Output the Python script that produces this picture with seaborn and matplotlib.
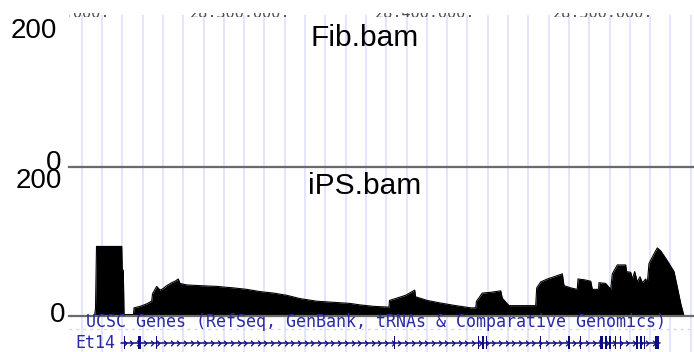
import numpy as np
import matplotlib
matplotlib.use("Agg")
import matplotlib.pyplot as plt
from matplotlib.ticker import MultipleLocator
from matplotlib.path import Path
import seaborn as sns

# ---------------- data ----------------
track_names = ["Fib.bam", "iPS.bam"]
track_max_label = "200"
track_min_label = "0"
track_ymax = 200

ruler_labels = ["28,200,000,", "28,300,000,", "28,400,000,", "28,500,000,"]
ruler_label_pos = [110, 290, 475, 653]

fib_pos = [69, 694]
fib_cov = [0, 0]

ips_pos = [69, 94.5, 95.5, 96.5, 121.7, 122.2, 123.3, 124, 133.5, 134, 140, 146,
           151.7, 152.5, 156.7, 160, 163, 166.7, 171.7, 175, 178.3, 180, 186.7,
           200, 216.7, 233.3, 246.7, 260, 273.3, 286.7, 300, 316.7, 333.3, 350,
           360, 374, 389, 389.5, 405.7, 414.7, 415.5, 427.3, 440.7, 454, 470.7,
           475.7, 476.5, 482.3, 490.7, 500.7, 502.3, 509, 535.7, 536.7, 540.7,
           547.3, 554, 562.3, 564, 570.7, 577.3, 578, 584, 590.7, 592.3, 598.5,
           599, 605.7, 610.7, 612.3, 617.3, 625.7, 626.5, 630.7, 632.3, 634.7,
           637.3, 640, 642.3, 645.7, 647.3, 649, 654, 657.3, 660.7, 665.7, 669,
           674, 677.3, 680.7, 684, 694]
ips_cov = [0, 0, 10, 94, 94, 62, 62, 2, 2, 11, 13, 16,
           20, 30, 40, 35, 37, 41, 45, 47, 50, 44, 42,
           41, 40, 38, 36, 33, 31, 28, 23.5, 20, 18.5, 17,
           15, 13, 12, 21, 28, 35, 26, 21, 17.5, 14.4, 11,
           11, 20, 31, 32, 34, 24, 14, 14, 38, 46,
           50, 53, 57, 41, 38, 36, 50, 49, 47, 36, 36,
           45, 44, 36, 57, 69, 69, 60, 59, 50, 60,
           46, 53, 45, 50, 44, 71, 84, 92, 88, 78, 71,
           60, 39, 17, 0, 0]

gene_track_label = "UCSC Genes (RefSeq, GenBank, tRNAs & Comparative Genomics)"
gene_name = "Et14"
gene_start = 120.7
gene_end = 660
exon_pos = [125, 139, 156.7, 394.5, 478.5, 483, 486.5, 540.5, 569, 580.5,
            601.5, 605.5, 609.5, 615.5, 620.5, 636.8, 641, 644.3, 656.5]
exon_len = [1.0, 3.0, 1.5, 1.5, 1.5, 1.5, 1.5, 1.5, 1.5, 1.5,
            2.5, 2.0, 2.0, 1.5, 1.5, 2.5, 1.5, 1.5, 4.0]

# ---------------- layout helpers ----------------
W, H = 694, 352
sns.set_style("white")
fig = plt.figure(figsize=(W / 100, H / 100), dpi=100)
fig.patch.set_facecolor("white")

def px_axes(x0, y0, x1, y1, z=1):
    ax = fig.add_axes([x0 / W, 1 - y1 / H, (x1 - x0) / W, (y1 - y0) / H], zorder=z)
    ax.patch.set_visible(False)
    for s in ax.spines.values():
        s.set_visible(False)
    ax.tick_params(left=False, bottom=False, labelleft=False, labelbottom=False)
    ax.set_xlim(69, 694)
    return ax

def ftext(x, y, s, **kw):
    fig.text(x / W, 1 - y / H, s, color="black", **kw)

XL = (69, 694)
grid_color = "#dcdcfc"
label_font = ["Liberation Sans", "DejaVu Sans"]
mono_font = ["DejaVu Sans Mono"]
blue_txt = "#2a2aa2"
gene_blue = "#0c0c80"

# background grid (light blue vertical lines)
ax_bg = px_axes(69, 15, 694, 352, z=0)
ax_bg.set_ylim(0, 1)
ax_bg.xaxis.set_major_locator(MultipleLocator(20.3, offset=0.5))
ax_bg.grid(axis="x", color=grid_color, lw=1.1)
ax_bg.grid(axis="y", visible=False)

# ruler labels (only their bottoms are visible)
ax_r = px_axes(69, 13, 694, 17, z=1)
ax_r.set_ylim(0, 1)
for lab, xp in zip(ruler_labels, ruler_label_pos):
    ax_r.text(xp, -0.3, lab, ha="right", va="baseline", fontsize=11,
              family=mono_font, color="#505050", clip_on=True)

# coverage tracks
for name, pos, cov, (y0, y1) in [(track_names[0], fib_pos, fib_cov, (18, 167)),
                                   (track_names[1], ips_pos, ips_cov, (168, 316))]:
    ax = px_axes(69, y0, 694, y1, z=2)
    ax.fill_between(pos, cov, 0, color="black", lw=0)
    sns.lineplot(x=pos, y=cov, ax=ax, color="black", lw=0.8,
                 estimator=None, sort=False)
    ax.set_xlim(*XL)
    ax.set_ylim(0, track_ymax)
    ax.set_xlabel("")
    ax.set_ylabel("")
    ax.spines["bottom"].set_visible(True)
    ax.spines["bottom"].set_color("#6a6a6a")
    ax.spines["bottom"].set_linewidth(1.6)

# track text labels
ftext(56.7, 38, track_max_label, ha="right", va="baseline", fontsize=20, family=label_font)
ftext(61.7, 170, track_min_label, ha="right", va="baseline", fontsize=20, family=label_font)
ftext(61.7, 187.5, track_max_label, ha="right", va="baseline", fontsize=20, family=label_font)
ftext(65, 321.5, track_min_label, ha="right", va="baseline", fontsize=20, family=label_font)
ftext(365, 46.5, track_names[0], ha="center", va="baseline", fontsize=21.5, family=label_font)
ftext(365, 193.5, track_names[1], ha="center", va="baseline", fontsize=21.5, family=label_font)

# gene track
ax_g = px_axes(69, 316, 694, 352, z=2)
ax_g.set_ylim(-9, 27)
ax_g.axhline(14.5, color="#d8d8d8", lw=1, ls=(0, (2, 3)))
ax_g.text(86, 21, gene_track_label, ha="left", va="center", fontsize=12,
          family=mono_font, color=blue_txt)
ax_g.text(75, 0.5, gene_name, ha="left", va="center", fontsize=12,
          family=mono_font, color=blue_txt)
ax_g.plot([gene_start, gene_end], [0.5, 0.5], color=gene_blue, lw=1.1)
chev = Path([(-0.5, 1), (0.5, 0), (-0.5, -1)], [Path.MOVETO, Path.LINETO, Path.LINETO])
chev_x = np.arange(gene_start + 4, gene_end - 3, 6.7)
ax_g.plot(chev_x, np.full_like(chev_x, 0.5), ls="none", marker=chev, ms=4,
          mfc="none", mec=gene_blue, mew=0.9)
ax_g.bar(exon_pos, 13, width=exon_len, bottom=-6, color=gene_blue, lw=0)
ax_g.set_xlim(*XL)

fig.savefig("out.png", dpi=100, facecolor="white")
